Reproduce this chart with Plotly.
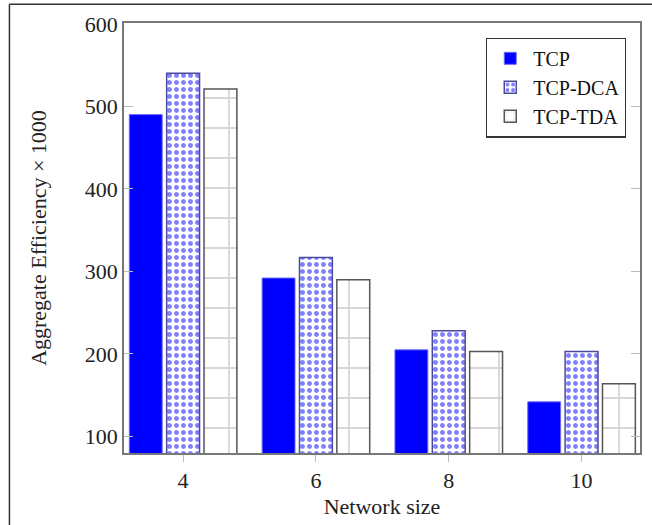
import plotly.graph_objects as go

network_size = [4, 6, 8, 10]
tcp = [490, 292, 205, 142]
tcp_dca = [540, 317, 228, 203]
tcp_tda = [521, 290, 203, 164]
y_ticks = [100, 200, 300, 400, 500, 600]

FONT = "Liberation Serif"
bw = 0.495
step = 0.5625

fig = go.Figure()
fig.add_trace(go.Bar(
    x=network_size, y=tcp, name="TCP", width=bw, offset=-step - bw / 2,
    marker=dict(color="#0000ff", line=dict(color="#6a6aff", width=1)),
))
fig.add_trace(go.Bar(
    x=network_size, y=tcp_dca, name="TCP-DCA", width=bw, offset=-bw / 2,
    marker=dict(color="white", line=dict(color="#4a4a9a", width=1.5),
                pattern=dict(shape=".", fgcolor="#0000ff", bgcolor="white",
                             size=7, solidity=0.4)),
))
fig.add_trace(go.Bar(
    x=network_size, y=tcp_tda, name="TCP-TDA", width=bw, offset=step - bw / 2,
    marker=dict(color="white", line=dict(color="#555555", width=1.5),
                pattern=dict(shape="+", fgcolor="#b0b0b0", bgcolor="white",
                             size=30, solidity=0.12)),
))

fig.update_layout(
    width=652, height=525,
    margin=dict(l=124, r=10, t=23, b=69),
    barmode="overlay",
    paper_bgcolor="white", plot_bgcolor="white",
    font=dict(family=FONT, size=22, color="#222222"),
    showlegend=True,
    legend=dict(x=0.973, y=0.966, xanchor="right", yanchor="top",
                bordercolor="#333333", borderwidth=1.2, bgcolor="white",
                font=dict(family=FONT, size=20, color="#111111"),
                tracegroupgap=0, itemwidth=36),
    xaxis=dict(
        range=[3.11, 10.88], tickvals=network_size,
        ticktext=[str(v) for v in network_size],
        ticks="outside", ticklen=7, tickcolor="#bbbbbb", tickwidth=1,
        showline=True, linecolor="#777777", linewidth=1.5, mirror=True,
        showgrid=False, zeroline=False,
        title=dict(text="Network size", font=dict(family=FONT, size=22), standoff=6),
        tickfont=dict(family=FONT, size=22),
    ),
    yaxis=dict(
        range=[80, 601], tickvals=y_ticks,
        ticks="inside", ticklen=9, tickcolor="#bbbbbb", tickwidth=1,
        showline=True, linecolor="#777777", linewidth=1.5, mirror="allticks",
        showgrid=False, zeroline=False,
        title=dict(text="Aggregate Efficiency × 1000", font=dict(family=FONT, size=22), standoff=32),
        tickfont=dict(family=FONT, size=22),
    ),
    shapes=[
        dict(type="line", xref="paper", yref="paper", x0=(9 - 124) / 518, x1=1.1,
             y0=(456 - 4) / 433, y1=(456 - 4) / 433,
             line=dict(color="#333333", width=1.5)),
        dict(type="line", xref="paper", yref="paper", x0=(9 - 124) / 518, x1=(9 - 124) / 518,
             y0=-0.2, y1=(456 - 4) / 433,
             line=dict(color="#333333", width=1.5)),
    ],
)

fig.write_html("out.html", config={"displayModeBar": False},
               post_script="document.body.style.margin='0';")
